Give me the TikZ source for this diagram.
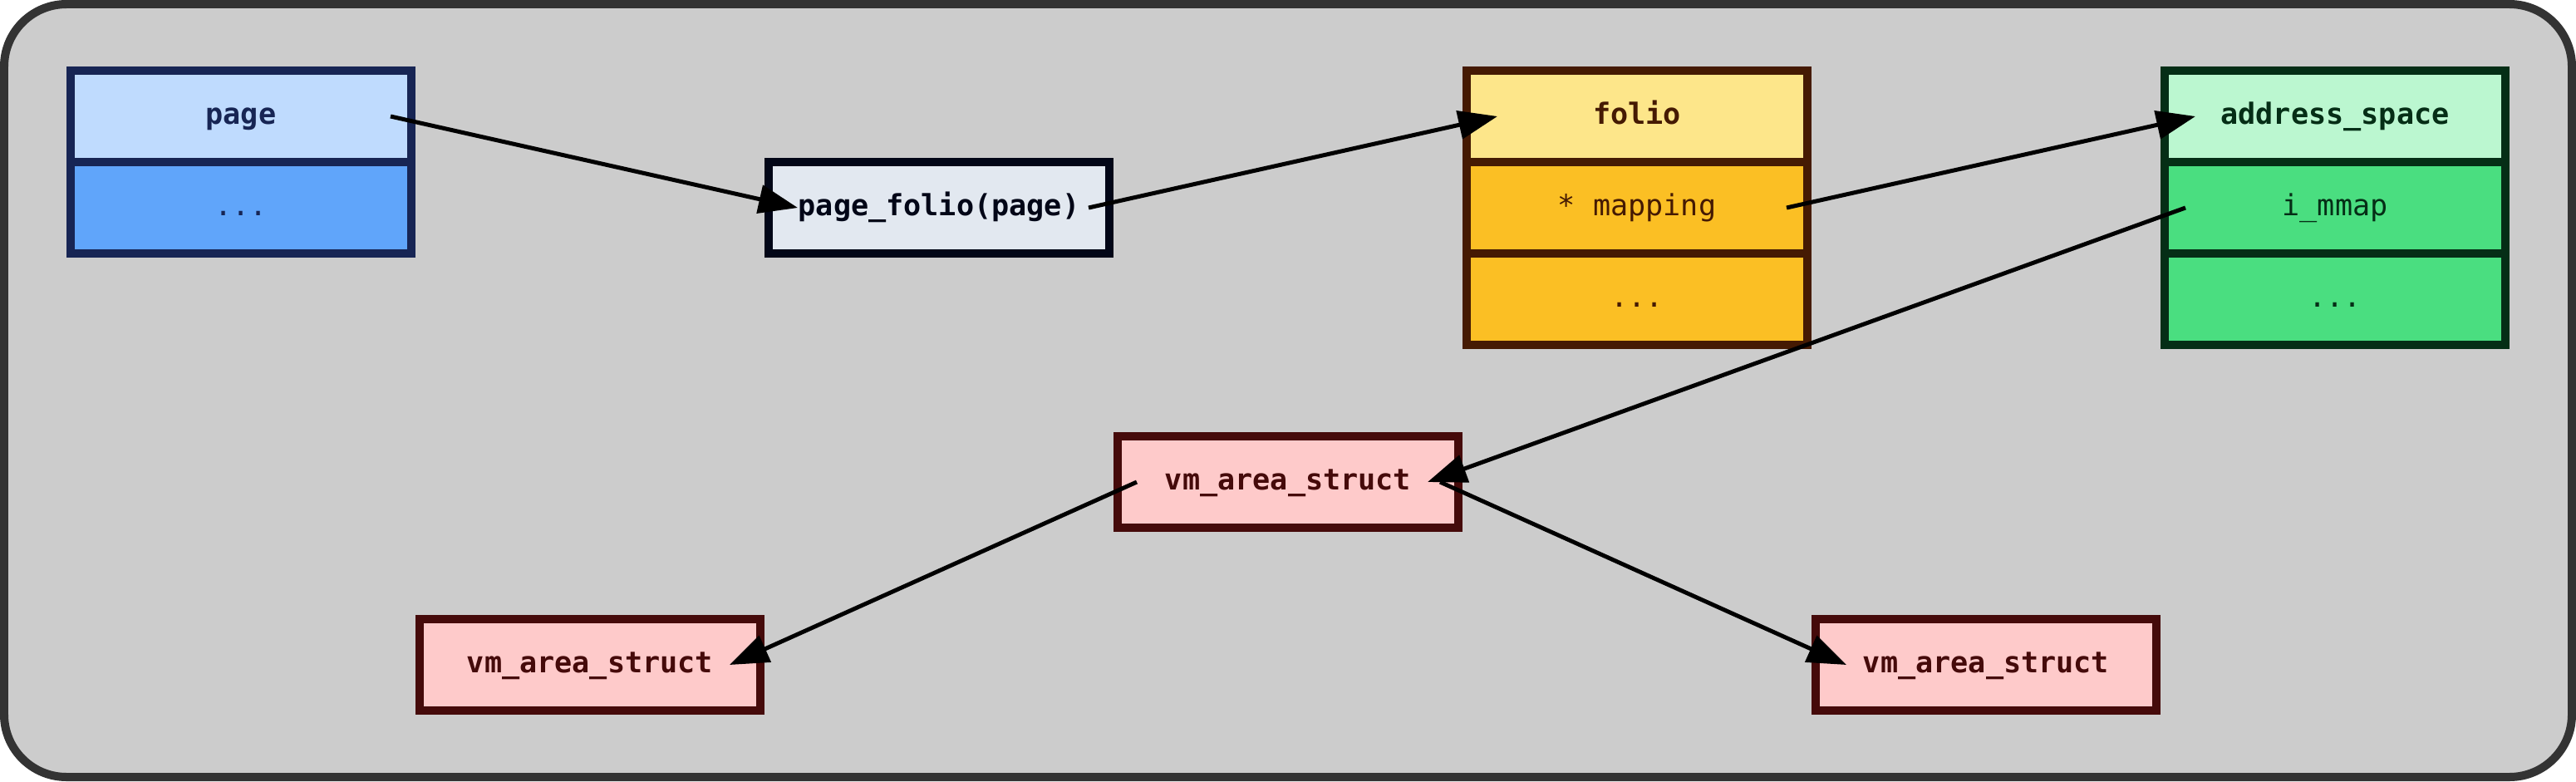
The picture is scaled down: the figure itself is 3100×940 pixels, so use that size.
\documentclass[tikz,border=0pt]{standalone}
\usepackage{fontspec}
\setmonofont{DejaVu Sans Mono}
\usepackage{tikz}
\usetikzlibrary{arrows.meta}
\definecolor{framefill}{HTML}{CCCCCC}
\definecolor{frameline}{HTML}{333333}
\definecolor{pagehead}{HTML}{BFDBFE}
\definecolor{pagebody}{HTML}{60A5FA}
\definecolor{pageline}{HTML}{172554}
\definecolor{foliohead}{HTML}{FDE68A}
\definecolor{foliobody}{HTML}{FBBF24}
\definecolor{folioline}{HTML}{451A03}
\definecolor{spacehead}{HTML}{BBF7D0}
\definecolor{spacebody}{HTML}{4ADE80}
\definecolor{spaceline}{HTML}{052E16}
\definecolor{vmafill}{HTML}{FECACA}
\definecolor{vmaline}{HTML}{450A0A}
\definecolor{callfill}{HTML}{E2E8F0}
\definecolor{callline}{HTML}{020617}
\tikzset{
  field/.style={rectangle,line width=1mm,outer sep=0pt,inner sep=0pt,
    minimum width=41mm,minimum height=11mm,text height=2.6mm,text depth=0.8mm,
    font=\fontsize{10pt}{12pt}\selectfont\ttfamily},
  title/.style={field,font=\fontsize{10pt}{12pt}\selectfont\ttfamily\bfseries},
  link/.style={-{Triangle[length=4.7mm,width=3.4mm]},line width=0.5mm,black}
}

\begin{document}
\begin{tikzpicture}[x=0.1mm,y=-0.1mm]
  \useasboundingbox (0,0) rectangle (3100,940);
  \draw[line width=1mm,draw=frameline,fill=framefill,rounded corners=7.5mm] (5,5) rectangle (3095,935);

  \node[title,draw=pageline,fill=pagehead,text=pageline] (pg) at (290,140) {page};
  \node[field,draw=pageline,fill=pagebody,text=pageline] (pgdots) at (290,250) {...};

  \node[title,draw=callline,fill=callfill,text=callline] (pf) at (1130,250) {page\_folio(page)};

  \node[title,draw=folioline,fill=foliohead,text=folioline] (fo) at (1970,140) {folio};
  \node[field,draw=folioline,fill=foliobody,text=folioline] (fomap) at (1970,250) {* mapping};
  \node[field,draw=folioline,fill=foliobody,text=folioline] (fodots) at (1970,360) {...};

  \node[title,draw=spaceline,fill=spacehead,text=spaceline] (as) at (2810,140) {address\_space};
  \node[field,draw=spaceline,fill=spacebody,text=spaceline] (asmmap) at (2810,250) {i\_mmap};
  \node[field,draw=spaceline,fill=spacebody,text=spaceline] (asdots) at (2810,360) {...};

  \node[title,draw=vmaline,fill=vmafill,text=vmaline] (vm) at (1550,580) {vm\_area\_struct};
  \node[title,draw=vmaline,fill=vmafill,text=vmaline] (vml) at (710,800) {vm\_area\_struct};
  \node[title,draw=vmaline,fill=vmafill,text=vmaline] (vmr) at (2390,800) {vm\_area\_struct};

  \draw[link] ([xshift=-2.5mm]pg.east) -- ([xshift=3.5mm]pf.west);
  \draw[link] ([xshift=-2.5mm]pf.east) -- ([xshift=3.7mm]fo.west);
  \draw[link] ([xshift=-2.5mm]fomap.east) -- ([xshift=3.7mm]as.west);
  \draw[link] ([xshift=2.5mm]asmmap.west) -- ([xshift=-3.7mm]vm.east);
  \draw[link] ([xshift=2.3mm]vm.west) -- ([xshift=-3.7mm]vml.east);
  \draw[link] ([xshift=-2.2mm]vm.east) -- ([xshift=3.7mm]vmr.west);
\end{tikzpicture}
\end{document}
